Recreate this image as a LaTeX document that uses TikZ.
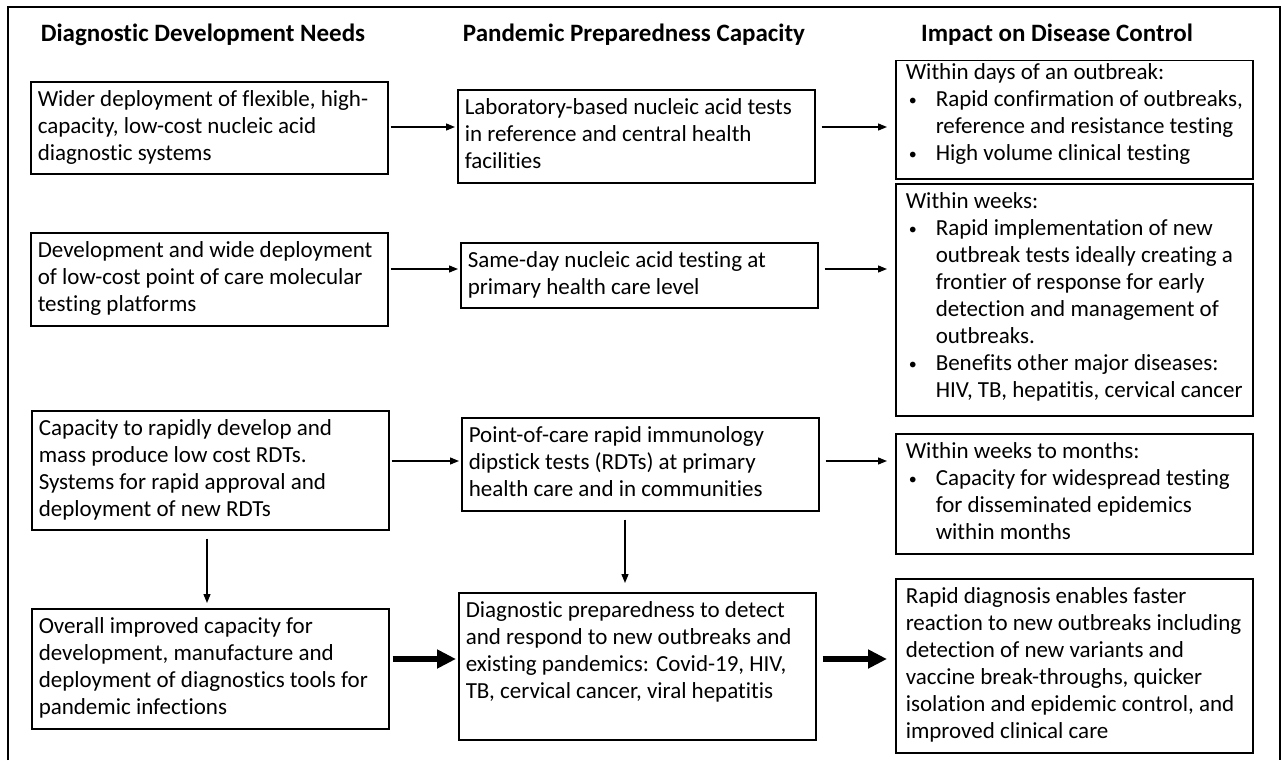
\documentclass[tikz,border=0pt]{standalone}
\usepackage{fontspec}
\setmainfont{Carlito}[Ligatures=NoCommon]
\usetikzlibrary{arrows.meta, positioning}

\newcommand{\bul}{\makebox[30pt][l]{\hspace{3pt}\raisebox{1pt}{\fontsize{16pt}{16pt}\selectfont\textbullet}}}
\newcommand{\ind}{\hspace*{30pt}}
\newcommand{\cell}[4][9pt]{\parbox[t][#3][t]{357pt}{\raggedright\leftskip=#2\vspace*{#1}#4}}

\begin{document}
\begin{tikzpicture}[
    x=1pt, y=-1pt,
    every node/.style={font=\fontsize{23pt}{27pt}\selectfont},
    box/.style={rectangle, draw, line width=1.5pt, inner sep=0pt, anchor=north west},
    head/.style={font=\fontsize{25pt}{27pt}\selectfont\bfseries},
    arr/.style={-{Triangle[length=9pt, width=7pt]}, line width=1.3pt, shorten <=2pt, shorten >=2pt},
    arrfar/.style={arr, shorten <=6pt, shorten >=8pt},
    bigarr/.style={-{Triangle[length=19pt, width=18pt]}, line width=6pt}
]
\useasboundingbox (0,0) rectangle (1287,760);
\draw[line width=2pt] (8,760) -- (8,7) -- (1280,7) -- (1280,760);

% column headings
\node[head] (hneed)   at (203,35)  {Diagnostic Development Needs};
\node[head] (hcap)    at (634,35)  {Pandemic Preparedness Capacity};
\node[head] (himpact) at (1057,35) {Impact on Disease Control};

% development needs
\node[box] (need1) at (30,81)  {\cell{7pt}{92pt}{Wider deployment of flexible, high-\\capacity, low-cost nucleic acid\\diagnostic systems}};
\node[box] (need2) at (30,232) {\cell{7pt}{93pt}{Development and wide deployment\\of low-cost point of care molecular\\testing platforms}};
\node[box] (need3) at (31,410) {\cell{7pt}{119pt}{Capacity to rapidly develop and\\mass produce low cost RDTs.\\Systems for rapid approval and\\deployment of new RDTs}};
\node[box] (need4) at (31,608) {\cell{7pt}{120pt}{Overall improved capacity for\\development, manufacture and\\deployment of diagnostics tools for\\pandemic infections}};

% preparedness capacity
\node[box] (cap1) at (457,89)  {\cell{7pt}{93pt}{Laboratory-based nucleic acid tests\\in reference and central health\\facilities}};
\node[box] (cap2) at (460,242) {\cell{7pt}{65pt}{Same-day nucleic acid testing at\\primary health care level}};
\node[box] (cap3) at (461,417) {\cell{7pt}{93pt}{Point-of-care rapid immunology\\dipstick tests (RDTs) at primary\\health care and in communities}};
\node[box] (cap4) at (458,592) {\cell{7pt}{147pt}{Diagnostic preparedness to detect\\and respond to new outbreaks and\\existing pandemics: Covid-19, HIV,\\TB, cervical cancer, viral hepatitis}};

% impact
\node[box] (impact1) at (895,60)  {\cell[3pt]{10pt}{118pt}{Within days of an outbreak:\\\bul Rapid confirmation of outbreaks,\\\ind reference and resistance testing\\\bul High volume clinical testing}};
\node[box] (impact2) at (895,183) {\cell{10pt}{232pt}{Within weeks:\\\bul Rapid implementation of new\\\ind outbreak tests ideally creating a\\\ind frontier of response for early\\\ind detection and management of\\\ind outbreaks.\\\bul Benefits other major diseases:\\\ind HIV, TB, hepatitis, cervical cancer}};
\node[box] (impact3) at (895,433) {\cell{10pt}{120pt}{Within weeks to months:\\\bul Capacity for widespread testing\\\ind for disseminated epidemics\\\ind within months}};
\node[box] (impact4) at (895,578) {\cell{10pt}{174pt}{Rapid diagnosis enables faster\\reaction to new outbreaks including\\detection of new variants and\\vaccine break-throughs, quicker\\isolation and epidemic control, and\\improved clinical care}};

% arrow levels
\coordinate (row1) at (0,127);
\coordinate (row2) at (0,269);
\coordinate (row3) at (0,461);
\coordinate (row4) at (0,659);
\coordinate (col1) at (207,0);
\coordinate (col2) at (625,0);

\draw[arr]    (need1.east |- row1) -- (cap1.west |- row1);
\draw[arrfar] (cap1.east |- row1)  -- (impact1.west |- row1);
\draw[arr]    (need2.east |- row2) -- (cap2.west |- row2);
\draw[arrfar] (cap2.east |- row2)  -- (impact2.west |- row2);
\draw[arr]    (need3.east |- row3) -- (cap3.west |- row3);
\draw[arrfar] (cap3.east |- row3)  -- (impact3.west |- row3);

\draw[arr, shorten <=8pt, shorten >=5pt] (need3.south -| col1) -- (need4.north -| col1);
\draw[arr, shorten <=8pt, shorten >=9pt] (cap3.south -| col2)  -- (cap4.north -| col2);

\draw[bigarr, shorten <=3pt, shorten >=2pt] (need4.east |- row4) -- (cap4.west |- row4);
\draw[bigarr, shorten <=6pt, shorten >=8pt] (cap4.east |- row4)  -- (impact4.west |- row4);
\end{tikzpicture}
\end{document}
